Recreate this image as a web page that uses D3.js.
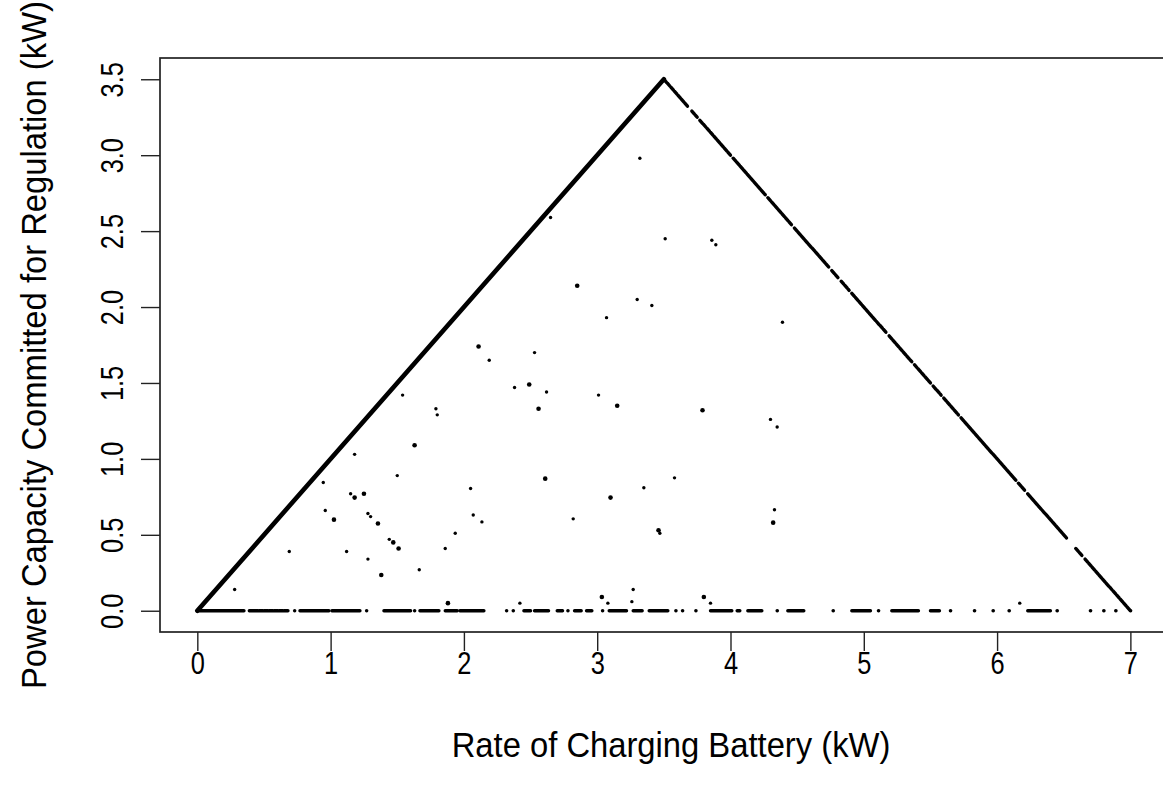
<!DOCTYPE html>
<html>
<head>
<meta charset="utf-8">
<script src="https://cdn.jsdelivr.net/npm/d3@7"></script>
<style>
  body { margin: 0; background: #fff; }
  svg { display: block; }
</style>
</head>
<body>
<div id="chart"></div>
<script>
// Axis ticks
const xTicks = [0, 1, 2, 3, 4, 5, 6, 7];
const yTicks = [0, 0.5, 1, 1.5, 2, 2.5, 3, 3.5];

// Stretches where the points sit so close they read as a line (x from, x to)
// points on y = x
const diagonalRuns = [[0, 3.5]];
// points on y = 7 - x
const rightEdgeRuns = [
  [3.50, 3.68], [3.71, 3.75], [3.77, 4.00], [4.02, 4.26], [4.28, 4.46],
  [4.48, 4.74], [4.76, 4.81], [4.83, 4.89], [4.91, 5.17], [5.19, 5.36],
  [5.38, 5.50], [5.52, 5.58], [5.60, 5.71], [5.73, 6.14], [6.16, 6.21],
  [6.23, 6.52], [6.59, 6.64], [6.66, 7.00]
];
// points on y = 0
const zeroRuns = [
  [0, 0.35], [0.39, 0.68], [0.73, 0.73], [0.77, 0.99], [1.01, 1.22],
  [1.27, 1.27], [1.40, 1.60], [1.63, 1.63], [1.67, 1.82], [1.86, 1.95],
  [1.97, 2.15], [2.32, 2.32], [2.37, 2.37], [2.45, 2.50], [2.53, 2.64],
  [2.70, 2.74], [2.78, 2.78], [2.83, 2.88], [2.92, 2.96], [3.04, 3.04],
  [3.09, 3.22], [3.27, 3.34], [3.39, 3.53], [3.59, 3.59], [3.64, 3.64],
  [3.74, 3.74], [3.85, 4.01], [4.05, 4.07], [4.13, 4.24], [4.35, 4.35],
  [4.43, 4.55], [4.77, 4.77], [4.91, 5.05], [5.11, 5.11], [5.21, 5.41],
  [5.50, 5.57], [5.65, 5.65], [5.83, 5.83], [5.97, 5.97], [6.09, 6.09],
  [6.23, 6.40], [6.45, 6.45], [6.70, 6.70], [6.80, 6.80], [6.89, 6.89],
  [7.00, 7.00]
];

// Scattered points inside the triangle: [x, y, overlapping count]
const interiorPoints = [
  [2.11, 1.74, 2], [2.19, 1.65, 1], [2.53, 1.70, 1], [2.38, 1.47, 1],
  [2.49, 1.49, 2], [2.62, 1.44, 1], [2.56, 1.33, 2], [1.54, 1.42, 1],
  [1.79, 1.33, 1], [1.80, 1.29, 1], [1.63, 1.09, 2], [1.18, 1.03, 1],
  [1.50, 0.89, 1], [0.945, 0.845, 1], [1.15, 0.77, 1], [1.18, 0.745, 2],
  [1.25, 0.77, 2], [0.96, 0.66, 1], [1.025, 0.60, 2], [1.28, 0.64, 1],
  [1.30, 0.62, 1], [1.355, 0.575, 2], [1.44, 0.47, 1], [1.47, 0.45, 2],
  [1.51, 0.41, 2], [0.69, 0.39, 1], [1.12, 0.39, 1], [1.28, 0.34, 1],
  [1.38, 0.235, 2], [1.665, 0.27, 1], [1.86, 0.41, 1], [1.935, 0.51, 1],
  [2.05, 0.805, 1], [2.07, 0.63, 1], [2.135, 0.585, 1], [2.61, 0.87, 2],
  [0.28, 0.14, 1], [1.88, 0.05, 2], [2.42, 0.05, 1],
  [3.32, 2.98, 1], [2.65, 2.59, 1], [3.51, 2.45, 1], [3.86, 2.44, 1],
  [3.89, 2.41, 1], [2.85, 2.14, 2], [3.30, 2.05, 1], [3.41, 2.01, 1],
  [3.07, 1.93, 1], [4.39, 1.90, 1],
  [3.01, 1.42, 1], [3.15, 1.35, 2], [3.79, 1.32, 2], [4.30, 1.26, 1],
  [4.35, 1.21, 1], [3.58, 0.875, 1], [3.35, 0.81, 1], [3.10, 0.745, 2],
  [2.82, 0.605, 1], [3.46, 0.53, 2], [3.47, 0.51, 1], [4.33, 0.665, 1],
  [4.32, 0.58, 2], [3.27, 0.14, 1], [3.035, 0.09, 2], [3.08, 0.05, 1],
  [3.26, 0.06, 1], [3.80, 0.09, 2], [3.85, 0.05, 1], [6.17, 0.05, 1]
];

const width = 1163;
const height = 789;
const font = "'Liberation Sans', Arial, Helvetica, sans-serif";

const svg = d3.select("#chart").append("svg")
  .attr("width", width)
  .attr("height", height)
  .style("font-family", font);

// R style: axis range padded by 4% of the data range
const x = d3.scaleLinear().domain([-0.28, 7.28]).range([160, 1167.7]);
const y = d3.scaleLinear().domain([-0.14, 3.64]).range([632, 58]);

// Box
svg.append("rect")
  .attr("x", x(-0.28))
  .attr("y", y(3.64))
  .attr("width", x(7.28) - x(-0.28))
  .attr("height", y(-0.14) - y(3.64))
  .attr("fill", "none")
  .attr("stroke", "#222")
  .attr("stroke-width", 1.7);

// X axis
const xAxis = svg.append("g")
  .attr("transform", `translate(0,${y(-0.14)})`)
  .call(d3.axisBottom(x).tickValues(xTicks).tickSize(19).tickSizeOuter(0)
    .tickFormat(d3.format("d")));
xAxis.select(".domain").remove();
xAxis.selectAll("line").attr("stroke", "#222").attr("stroke-width", 1.4);
xAxis.selectAll("text")
  .attr("fill", "#000")
  .attr("y", null)
  .attr("dy", null)
  .attr("dominant-baseline", "central")
  .attr("transform", "translate(0,31) scale(0.82,1)")
  .style("font-size", "31px")
  .style("font-family", font);

// Y axis, labels parallel to the axis
const yAxis = svg.append("g")
  .attr("transform", `translate(${x(-0.28)},0)`)
  .call(d3.axisLeft(y).tickValues(yTicks).tickSize(19).tickSizeOuter(0)
    .tickFormat(d3.format(".1f")));
yAxis.select(".domain").remove();
yAxis.selectAll("line").attr("stroke", "#222").attr("stroke-width", 1.4);
yAxis.selectAll("text")
  .attr("fill", "#000")
  .attr("x", null)
  .attr("dy", null)
  .attr("text-anchor", "middle")
  .attr("transform", "translate(-48,0) rotate(-90) scale(0.82,1)")
  .attr("dominant-baseline", "central")
  .style("font-size", "31px")
  .style("font-family", font);

// Axis titles
svg.append("text")
  .attr("transform", "translate(671,744) scale(0.91,1)")
  .attr("text-anchor", "middle")
  .attr("dominant-baseline", "central")
  .style("font-size", "36px")
  .text("Rate of Charging Battery (kW)");

svg.append("text")
  .attr("transform", `translate(33,${(y(-0.14) + y(3.64)) / 2}) rotate(-90) scale(0.91,1)`)
  .attr("text-anchor", "middle")
  .attr("dominant-baseline", "central")
  .style("font-size", "36px")
  .text("Power Capacity Committed for Regulation (kW)");

// Points
const marks = svg.append("g");

function drawRuns(runs, fy, w, dash) {
  marks.append("g")
    .selectAll("line")
    .data(runs)
    .join("line")
      .attr("x1", d => x(d[0]))
      .attr("y1", d => y(fy(d[0])))
      .attr("x2", d => x(d[1]))
      .attr("y2", d => y(fy(d[1])))
      .attr("stroke", "#000")
      .attr("stroke-width", w)
      .attr("stroke-dasharray", dash)
      .attr("stroke-linecap", "round");
}

drawRuns(diagonalRuns, v => v, 4.6, null);
drawRuns(rightEdgeRuns, v => 7 - v, 3.4, "4 1.3");
drawRuns(zeroRuns, v => 0, 3.4, "4 1");

marks.append("g")
  .selectAll("circle")
  .data(interiorPoints)
  .join("circle")
    .attr("cx", d => x(d[0]))
    .attr("cy", d => y(d[1]))
    .attr("r", d => d[2] > 1 ? 2.3 : 1.7)
    .attr("fill", "#000");
</script>
</body>
</html>
